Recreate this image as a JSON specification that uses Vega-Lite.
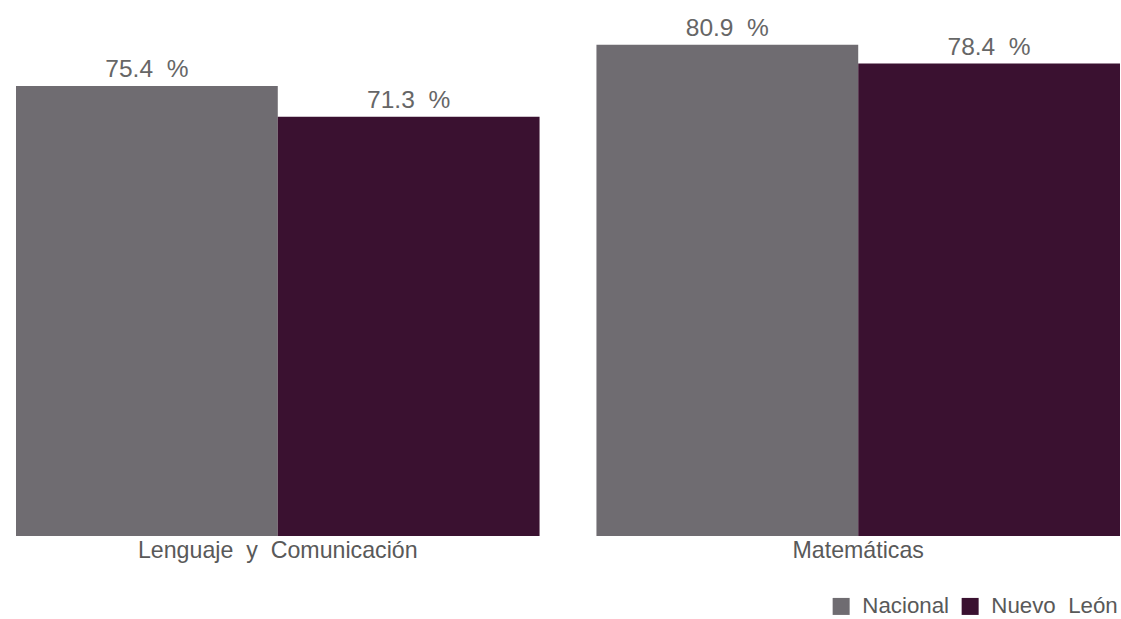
{
  "$schema": "https://vega.github.io/schema/vega-lite/v6.json",
  "autosize": {"type": "none"},
  "width": 1104,
  "height": 536,
  "padding": {"left": 16, "top": 0, "right": 1, "bottom": 83},
  "background": "white",
  "config": {"view": {"stroke": null}, "font": "Liberation Sans"},
  "data": {
    "values": [
      {"area": "Lenguaje\u00a0 y\u00a0 Comunicación", "serie": "Nacional", "valor": 75.4, "etiqueta": "75.4\u00a0 %"},
      {"area": "Lenguaje\u00a0 y\u00a0 Comunicación", "serie": "Nuevo\u00a0 León", "valor": 71.3, "etiqueta": "71.3\u00a0 %"},
      {"area": "Matemáticas", "serie": "Nacional", "valor": 80.9, "etiqueta": "80.9\u00a0 %"},
      {"area": "Matemáticas", "serie": "Nuevo\u00a0 León", "valor": 78.4, "etiqueta": "78.4\u00a0 %"}
    ]
  },
  "encoding": {
    "x": {
      "field": "area", "type": "nominal", "sort": null,
      "scale": {"paddingInner": 0.098, "paddingOuter": 0},
      "axis": {"title": null, "domain": false, "ticks": false, "labelAngle": 0, "labelFontSize": 23.2, "labelColor": "#595959", "labelPadding": 3, "labelBaseline": "top", "labelLimit": 0}
    },
    "xOffset": {"field": "serie", "type": "nominal", "sort": ["Nacional", "Nuevo\u00a0 León"], "scale": {"paddingInner": 0, "paddingOuter": 0}},
    "y": {
      "field": "valor", "type": "quantitative",
      "scale": {"domain": [15.4, 86.87], "zero": false, "nice": false},
      "axis": null
    }
  },
  "layer": [
    {
      "mark": {"type": "bar", "clip": true},
      "encoding": {
        "color": {
          "field": "serie", "type": "nominal",
          "scale": {"domain": ["Nacional", "Nuevo\u00a0 León"], "range": ["#6f6c71", "#3a1130"]},
          "legend": {
            "title": null, "orient": "none", "direction": "horizontal",
            "legendX": 814, "legendY": 595, "padding": 0,
            "symbolType": "square", "symbolSize": 289, "symbolStrokeWidth": 0, "symbolOpacity": 1,
            "labelFontSize": 22.3, "labelColor": "#595959", "labelOffset": 10, "columnPadding": 9, "labelLimit": 0
          }
        }
      }
    },
    {
      "mark": {"type": "text", "baseline": "alphabetic", "dy": -9, "fontSize": 24.5, "color": "#666666"},
      "encoding": {"text": {"field": "etiqueta"}}
    }
  ]
}
